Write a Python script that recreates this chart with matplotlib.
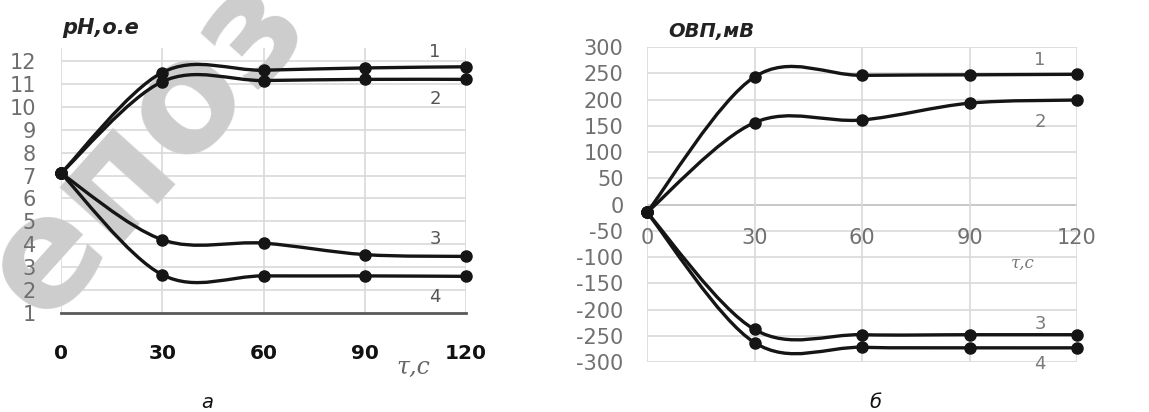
import matplotlib
matplotlib.use('Agg')
import matplotlib.pyplot as plt
from matplotlib.path import Path
from matplotlib.patches import PathPatch

plt.rcParams['axes.unicode_minus'] = False

# time points, s
t = [0, 30, 60, 90, 120]

# pH, o.e (curves 1-4)
ph_1 = [7.1, 11.5, 11.6, 11.7, 11.75]
ph_2 = [7.1, 11.1, 11.15, 11.2, 11.2]
ph_3 = [7.1, 4.2, 4.05, 3.55, 3.47]
ph_4 = [7.1, 2.67, 2.62, 2.62, 2.6]

# ОВП, мВ (curves 1-4)
orp_1 = [-15, 243, 246, 247, 248]
orp_2 = [-15, 156, 161, 193, 199]
orp_3 = [-15, -238, -248, -248, -248]
orp_4 = [-15, -263, -272, -273, -273]

ph_ticks = list(range(1, 13))
orp_ticks = list(range(-300, 301, 50))
curve_names = ['1', '2', '3', '4']

W, H = 1149, 412


def smooth_path(x, y):
    # Excel-like smoothed line: cubic Bezier through the points
    pts = list(zip(x, y))
    n = len(pts)
    verts = [pts[0]]
    codes = [Path.MOVETO]
    for i in range(n - 1):
        p0 = pts[max(i - 1, 0)]
        p1 = pts[i]
        p2 = pts[i + 1]
        p3 = pts[min(i + 2, n - 1)]
        c1 = (p1[0] + (p2[0] - p0[0]) / 6, p1[1] + (p2[1] - p0[1]) / 6)
        c2 = (p2[0] - (p3[0] - p1[0]) / 6, p2[1] - (p3[1] - p1[1]) / 6)
        verts += [c1, c2, p2]
        codes += [Path.CURVE4] * 3
    return Path(verts, codes)


def draw_series(ax, x, y):
    ax.add_patch(PathPatch(smooth_path(x, y), facecolor='none',
                           edgecolor='#151515', lw=2.4, zorder=3,
                           clip_on=False))
    ax.plot(x, y, 'o', color='#151515', ms=8, zorder=4, clip_on=False)


fig = plt.figure(figsize=(W / 100, H / 100), dpi=100)

# ---- panel a: pH ----
ax1 = fig.add_axes([61 / W, 1 - 313 / H, 405 / W, 265 / H])
ax1.set_xlim(0, 120)
ax1.set_ylim(1, 12.57)
for v in ph_ticks[1:]:
    ax1.axhline(v, color='#d9d9d9', lw=1.2, zorder=0.5)
for v in t:
    ax1.axvline(v, color='#d9d9d9', lw=1.2, zorder=0.5)
for s in ['top', 'right', 'left']:
    ax1.spines[s].set_visible(False)
ax1.spines['bottom'].set_color('#595959')
ax1.spines['bottom'].set_linewidth(2)
ax1.set_xticks(t)
ax1.set_yticks(ph_ticks)
ax1.tick_params(axis='x', length=0, pad=22, labelsize=14.5, labelcolor='#111111')
ax1.tick_params(axis='y', length=0, pad=18, labelsize=15, labelcolor='#6e6e6e')
for lab in ax1.get_xticklabels():
    lab.set_fontweight('bold')

for ys in [ph_1, ph_2, ph_3, ph_4]:
    draw_series(ax1, t, ys)

ph_lab_y = [12.39, 10.34, 4.24, 1.71]
for name, yy in zip(curve_names, ph_lab_y):
    ax1.text(110.8, yy, name, fontsize=13, color='#555555',
             ha='center', va='center', zorder=5)

# watermark
ax1.text(146 / W, 1 - 146 / H, 'епоз', transform=fig.transFigure,
         fontsize=110, fontweight='bold', color='#cdcdcd', rotation=48,
         ha='center', va='center', zorder=1, clip_on=False)

fig.text(62 / W, 1 - 28 / H, 'pH,о.е', fontsize=15, fontweight='bold',
         style='italic', color='#222222', va='center', ha='left')
fig.text(413 / W, 1 - 367 / H, 'τ,с', fontsize=17, style='italic',
         family='DejaVu Serif', color='#666666', va='center', ha='center')
fig.text(207 / W, 1 - 403 / H, 'а', fontsize=14, style='italic',
         color='#111111', va='center', ha='center')

# ---- panel б: ОВП ----
ax2 = fig.add_axes([647 / W, 1 - 362 / H, 430 / W, 315 / H])
ax2.set_xlim(0, 120)
ax2.set_ylim(-300, 300)
for v in orp_ticks:
    ax2.axhline(v, color='#bfbfbf' if v == 0 else '#d9d9d9', lw=1.2, zorder=0.5)
for v in t:
    ax2.axvline(v, color='#d9d9d9', lw=1.2, zorder=0.5)
for s in ['top', 'right', 'left']:
    ax2.spines[s].set_visible(False)
ax2.spines['bottom'].set_position(('data', 0))
ax2.spines['bottom'].set_visible(False)
ax2.set_xticks(t)
ax2.set_yticks(orp_ticks)
ax2.tick_params(axis='x', length=0, pad=17, labelsize=15, labelcolor='#707070')
ax2.tick_params(axis='y', length=0, pad=17, labelsize=15, labelcolor='#707070')

for ys in [orp_1, orp_2, orp_3, orp_4]:
    draw_series(ax2, t, ys)

orp_lab_y = [275, 157, -228, -304]
for name, yy in zip(curve_names, orp_lab_y):
    ax2.text(109.7, yy, name, fontsize=13, color='#7a7a7a',
             ha='center', va='center', zorder=5, clip_on=False)

fig.text(668 / W, 1 - 32 / H, 'ОВП,мВ', fontsize=14, fontweight='bold',
         style='italic', color='#222222', va='center', ha='left')
fig.text(1023 / W, 1 - 263 / H, 'τ,с', fontsize=12, style='italic',
         family='DejaVu Serif', color='#777777', va='center', ha='center')
fig.text(875 / W, 1 - 403 / H, 'б', fontsize=14, style='italic',
         color='#111111', va='center', ha='center')

fig.savefig('out.png', dpi=100)
